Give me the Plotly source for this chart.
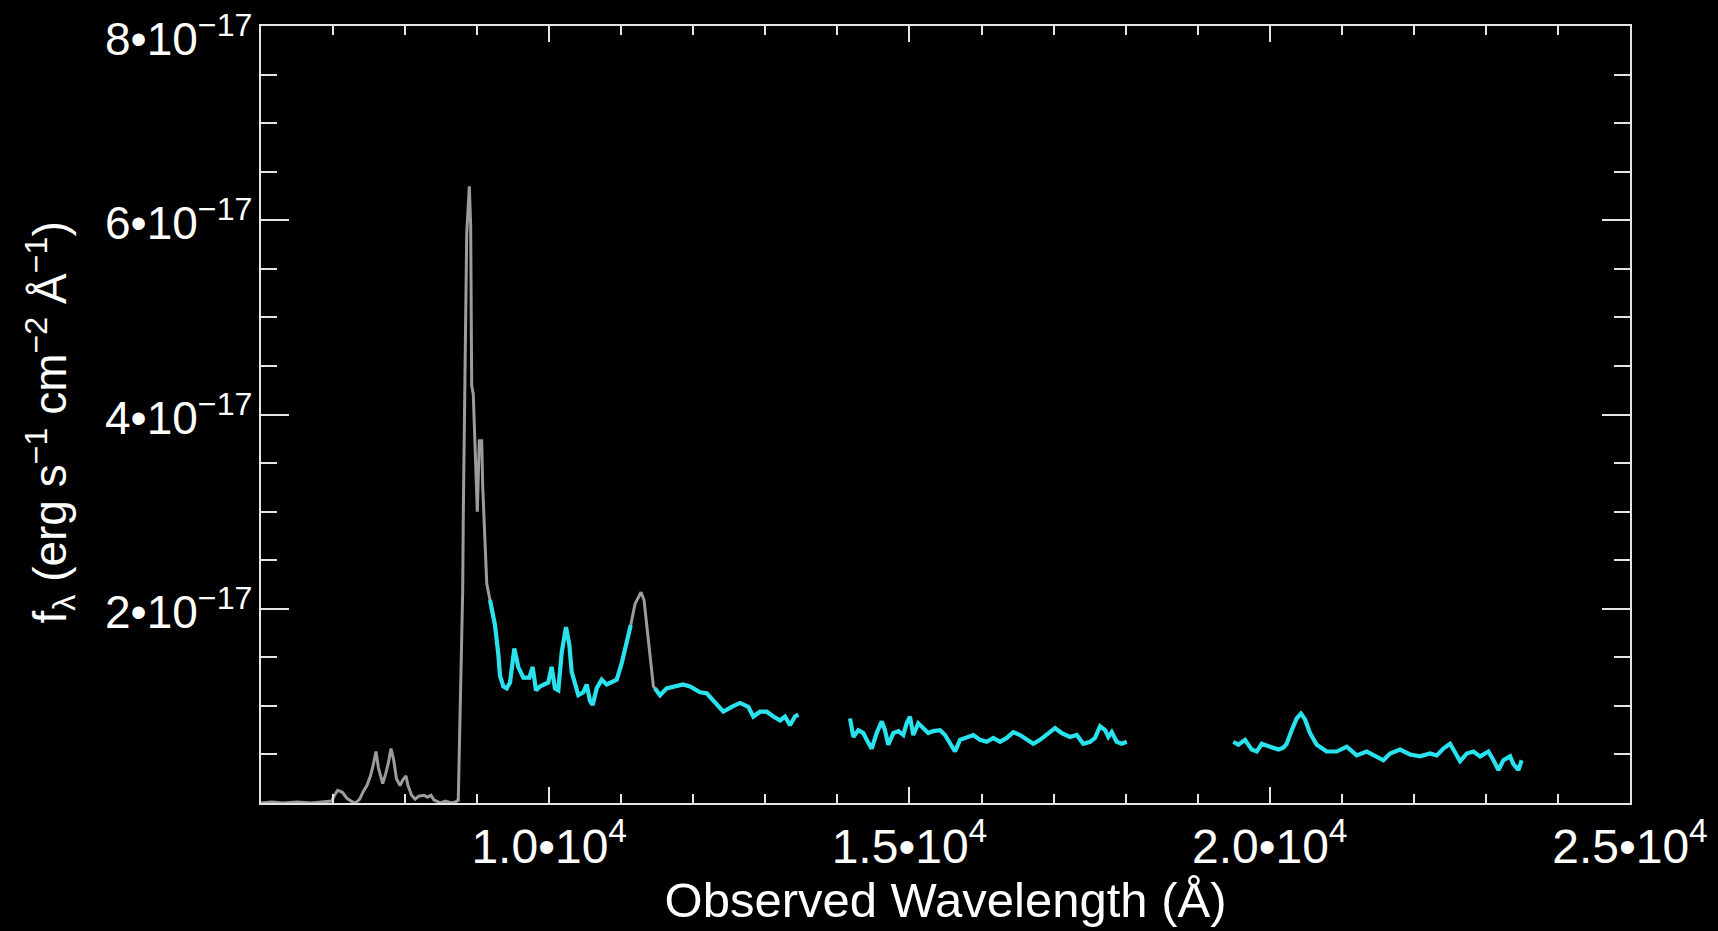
import plotly.graph_objects as go

# Observed-frame spectrum, flux density in units of 1e-17 erg/s/cm^2/A
# Block 1: optical + J band (continuous trace)
wl_opt = [6000, 6150, 6300, 6500, 6700, 6900, 6980, 7020, 7064, 7130, 7190, 7250, 7310,
          7370, 7420, 7470, 7520, 7560, 7596, 7630, 7689, 7730, 7770, 7804, 7840, 7880,
          7930, 7970, 8012, 8040, 8090, 8140, 8190, 8262, 8310, 8360, 8400, 8440, 8490,
          8560, 8640, 8700, 8738, 8762, 8799, 8808, 8831, 8855, 8891, 8910, 8924, 8946,
          8970, 9002, 9030, 9063, 9077, 9109, 9133, 9178,
          9248, 9294, 9317, 9363, 9410, 9456, 9516, 9571, 9641, 9724, 9770, 9817, 9872,
          9928, 9987, 10034, 10080, 10126, 10173, 10233, 10279, 10312, 10358, 10404,
          10473, 10520, 10566, 10603, 10659, 10728, 10798, 10867, 10937, 11006, 11076,
          11131, 11191, 11274, 11316, 11362, 11409, 11446, 11468,
          11538, 11630, 11722, 11815, 11857, 11954, 12093, 12186, 12301, 12417, 12533,
          12648, 12763, 12833, 12926, 13019, 13111, 13204, 13273, 13342, 13411, 13457]
fx_opt = [0.00, 0.01, 0.00, 0.01, 0.00, 0.01, 0.02, 0.08, 0.13, 0.11, 0.05, 0.02, 0.00,
          0.04, 0.12, 0.18, 0.28, 0.40, 0.53, 0.36, 0.20, 0.30, 0.42, 0.56, 0.45, 0.25,
          0.18, 0.24, 0.28, 0.18, 0.08, 0.04, 0.07, 0.08, 0.06, 0.08, 0.03, 0.02, 0.00,
          0.02, 0.00, 0.01, 0.03, 0.88, 2.18, 3.00, 4.30, 5.86, 6.35, 5.95, 4.30, 4.21,
          3.69, 3.00, 3.73, 3.73, 3.26, 2.61, 2.26, 2.09,
          1.83, 1.53, 1.31, 1.20, 1.18, 1.24, 1.59, 1.40, 1.29, 1.29, 1.40, 1.16, 1.20,
          1.22, 1.24, 1.40, 1.18, 1.16, 1.55, 1.81, 1.63, 1.35, 1.22, 1.11,
          1.14, 1.22, 1.05, 1.01, 1.18, 1.27, 1.22, 1.24, 1.27, 1.44, 1.66,
          1.83, 2.05, 2.17, 2.09, 1.79, 1.44, 1.20, 1.18,
          1.11, 1.18, 1.20, 1.21, 1.22, 1.20, 1.14, 1.13, 1.03, 0.94, 0.99,
          1.03, 0.99, 0.89, 0.94, 0.94, 0.89, 0.85, 0.89, 0.80, 0.89, 0.91]

# Block 2: H band
wl_h = [14175, 14221, 14290, 14360, 14406, 14476, 14545, 14615, 14660, 14706, 14776,
        14845, 14914, 14961, 15007, 15053, 15122, 15192, 15261, 15331, 15424, 15493,
        15563, 15632, 15701, 15794, 15886, 15979, 16072, 16164, 16257, 16350, 16441,
        16534, 16627, 16719, 16812, 16927, 17020, 17113, 17228, 17321, 17413, 17506,
        17575, 17645, 17714, 17760, 17807, 17876, 17946, 18015]
fx_h = [0.87, 0.68, 0.75, 0.72, 0.65, 0.56, 0.72, 0.84, 0.75, 0.60, 0.72,
        0.74, 0.70, 0.82, 0.89, 0.70, 0.82, 0.77, 0.72, 0.74, 0.75, 0.70,
        0.61, 0.53, 0.65, 0.67, 0.70, 0.65, 0.63, 0.67, 0.63, 0.67, 0.73,
        0.70, 0.65, 0.61, 0.65, 0.72, 0.77, 0.72, 0.68, 0.70, 0.61, 0.63,
        0.67, 0.79, 0.75, 0.68, 0.73, 0.63, 0.61, 0.63]

# Block 3: K band
wl_k = [19495, 19564, 19657, 19750, 19819, 19889, 20004, 20120, 20189, 20235, 20305,
        20374, 20434, 20490, 20559, 20652, 20791, 20930, 21069, 21207, 21346, 21485,
        21577, 21670, 21809, 21947, 22086, 22225, 22318, 22410, 22503, 22549, 22642,
        22735, 22827, 22920, 23035, 23105, 23174, 23243, 23336, 23382, 23451, 23497]
fx_k = [0.63, 0.60, 0.65, 0.55, 0.53, 0.61, 0.58, 0.55, 0.57, 0.61, 0.75,
        0.87, 0.92, 0.86, 0.72, 0.60, 0.53, 0.53, 0.58, 0.49, 0.53, 0.48,
        0.44, 0.51, 0.55, 0.50, 0.48, 0.51, 0.49, 0.56, 0.61, 0.55, 0.43,
        0.51, 0.53, 0.48, 0.53, 0.44, 0.34, 0.44, 0.48, 0.40, 0.34, 0.44]

# Wavelength windows of block 1 that are highlighted as fitted continuum
fit_windows = [(9178, 11131), (11468, 13457)]

# Axis ticks
y_tickvals = [2, 4, 6, 8]
y_ticktext = ["2\u202210<sup>\u221217</sup>", "4\u202210<sup>\u221217</sup>",
              "6\u202210<sup>\u221217</sup>", "8\u202210<sup>\u221217</sup>"]
x_tickvals = [10000, 15000, 20000, 25000]
x_ticktext = ["1.0\u202210<sup>4</sup>", "1.5\u202210<sup>4</sup>",
              "2.0\u202210<sup>4</sup>", "2.5\u202210<sup>4</sup>"]
y_title = "f<sub>\u03bb</sub> (erg s<sup>\u22121</sup> cm<sup>\u22122</sup> \u00c5<sup>\u22121</sup>)"

GRAY = "#9c9c9c"
CYAN = "#2ae2ee"
AXIS = "#e4e4e4"

fig = go.Figure()

fig.add_trace(go.Scatter(x=wl_opt, y=fx_opt, mode="lines",
                         line=dict(color=GRAY, width=3), hoverinfo="skip"))

for lo, hi in fit_windows:
    xs = [w for w in wl_opt if lo <= w <= hi]
    ys = [f for w, f in zip(wl_opt, fx_opt) if lo <= w <= hi]
    fig.add_trace(go.Scatter(x=xs, y=ys, mode="lines",
                             line=dict(color=CYAN, width=4.2), hoverinfo="skip"))

for xs, ys in ((wl_h, fx_h), (wl_k, fx_k)):
    fig.add_trace(go.Scatter(x=xs, y=ys, mode="lines",
                             line=dict(color=CYAN, width=4.2), hoverinfo="skip"))

# y tick labels as annotations so the topmost one can sit inside the page
for val, txt in zip(y_tickvals, y_ticktext):
    fig.add_annotation(x=0, xref="paper", y=val, yref="y", text=txt,
                       showarrow=False, xanchor="right", yanchor="middle",
                       xshift=-7, yshift=-10 if val == max(y_tickvals) else 0,
                       font=dict(size=46, color="white"))

# y axis title
fig.add_annotation(x=0, xref="paper", y=0.5, yref="paper", text=y_title,
                   showarrow=False, textangle=-90, xanchor="center", yanchor="middle",
                   xshift=-211, yshift=-8, font=dict(size=46, color="white"))

fig.update_layout(
    width=1718, height=931,
    paper_bgcolor="black", plot_bgcolor="black",
    showlegend=False,
    margin=dict(l=261, r=88, t=26, b=128),
    font=dict(family="Liberation Sans, Arial, sans-serif", color="white"),
)

fig.update_xaxes(
    range=[6000, 25000], showgrid=False, zeroline=False, automargin=False,
    showline=True, linecolor=AXIS, linewidth=2, mirror="ticks",
    ticks="inside", ticklen=16, tickwidth=2, tickcolor=AXIS,
    tickvals=x_tickvals, ticktext=x_ticktext,
    tickfont=dict(size=48, color="white"),
    ticklabeloverflow="allow",
    minor=dict(ticks="inside", ticklen=9, tickwidth=2, tickcolor=AXIS, dtick=1000, tick0=0),
    title=dict(text="Observed Wavelength (\u00c5)", standoff=8,
               font=dict(size=49, color="white")),
)

fig.update_yaxes(
    range=[0, 8], showgrid=False, zeroline=False, automargin=False,
    showline=True, linecolor=AXIS, linewidth=2, mirror="ticks",
    ticks="inside", ticklen=28, tickwidth=2, tickcolor=AXIS,
    tickvals=y_tickvals, showticklabels=False,
    minor=dict(ticks="inside", ticklen=16, tickwidth=2, tickcolor=AXIS, dtick=0.5, tick0=0),
)

fig.write_html("out.html")
